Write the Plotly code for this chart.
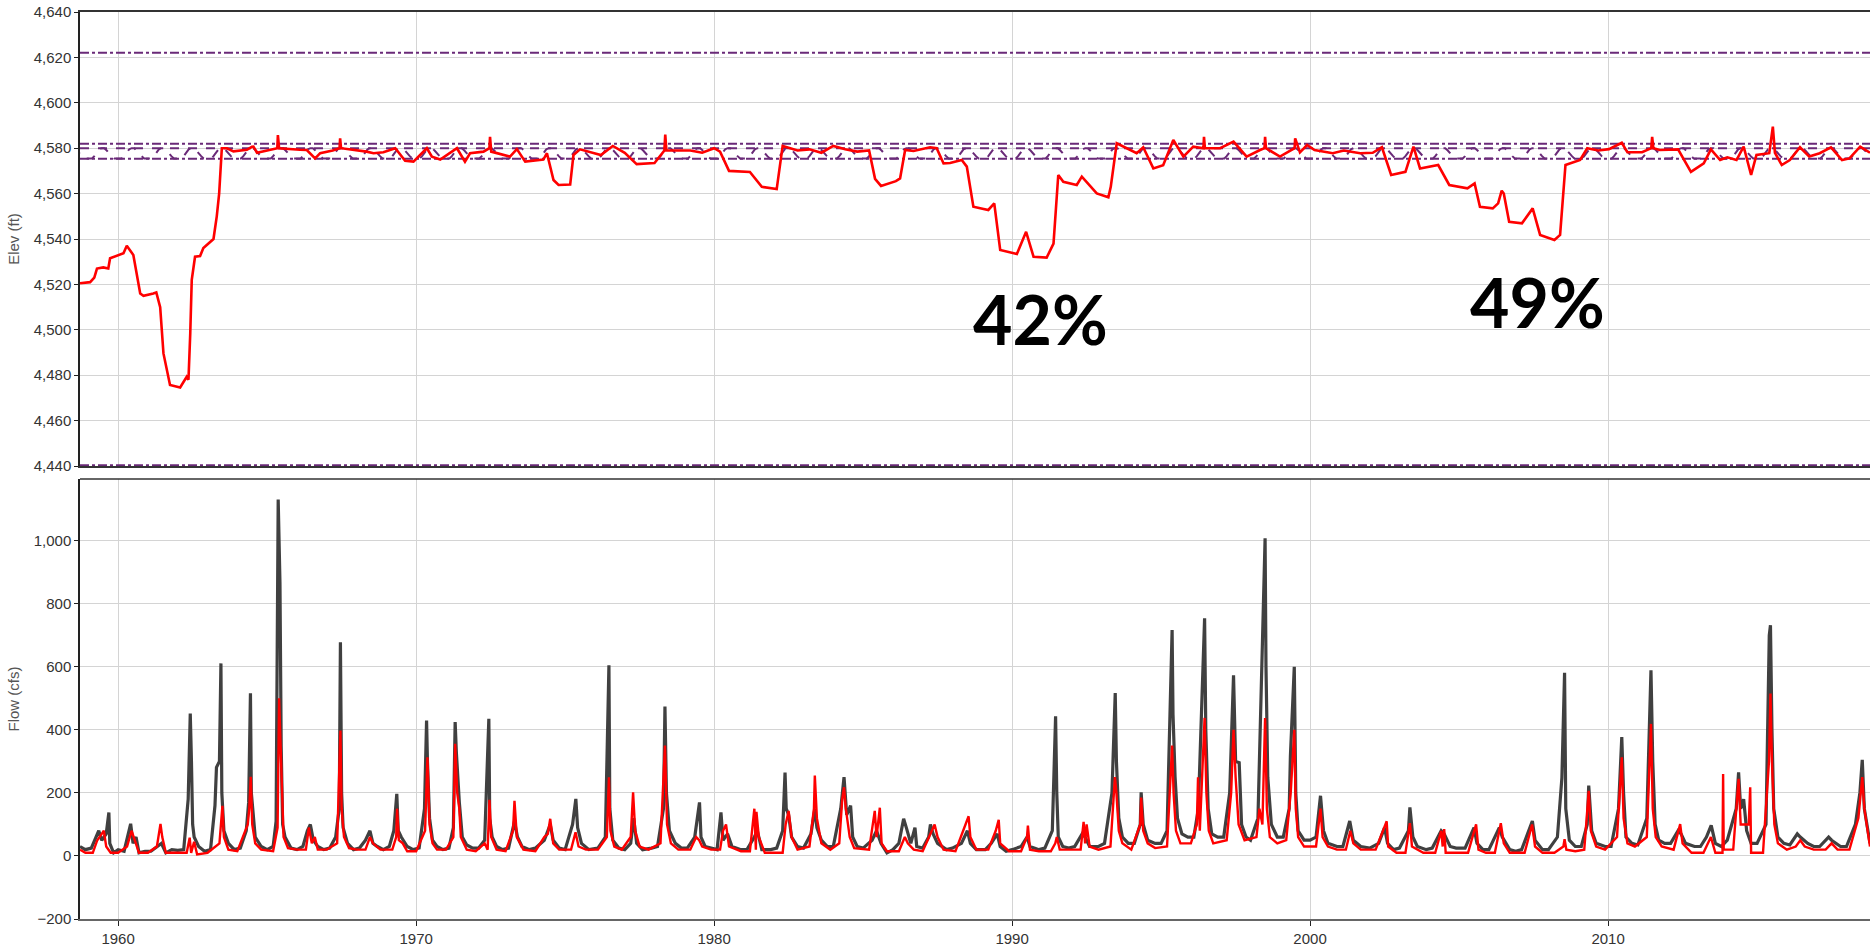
import pandas as pd
import plotly.graph_objects as go

# ---------------------------------------------------------------------------
# Data (decimal year, value)
# ---------------------------------------------------------------------------

# Reservoir pool elevation (ft)
elev_pool = [
    (1958.72, 4520.5), (1959.06, 4521), (1959.2, 4523), (1959.29, 4527), (1959.5, 4527.5),
    (1959.67, 4527), (1959.73, 4531.5), (1960.18, 4533.7), (1960.29, 4537), (1960.51, 4533),
    (1960.74, 4516), (1960.85, 4515), (1961.18, 4516), (1961.28, 4516.5), (1961.41, 4510),
    (1961.52, 4489.6), (1961.74, 4475.7), (1962.08, 4474.6), (1962.3, 4479.3), (1962.36, 4478),
    (1962.42, 4498.5), (1962.47, 4522), (1962.58, 4532.2), (1962.75, 4532.5), (1962.86, 4536),
    (1963.2, 4540), (1963.31, 4550), (1963.39, 4560), (1963.48, 4580), (1963.65, 4580),
    (1963.87, 4578.6), (1964.32, 4579.3), (1964.49, 4580.6), (1964.54, 4580.7), (1964.66, 4578),
    (1965.0, 4579), (1965.34, 4580), (1965.36, 4585.8), (1965.4, 4580), (1966.1, 4579.3),
    (1966.33, 4579.2), (1966.61, 4575.5), (1966.78, 4577.8), (1967.2, 4579), (1967.43, 4580),
    (1967.45, 4584.3), (1967.48, 4580), (1968.34, 4578.5), (1968.57, 4577.8), (1968.9, 4578.2),
    (1969.3, 4580), (1969.63, 4574.5), (1969.91, 4574.1), (1970.36, 4580), (1970.53, 4576.3),
    (1970.81, 4575), (1971.37, 4580), (1971.64, 4574.1), (1971.81, 4577.8), (1972.26, 4578.5),
    (1972.46, 4580), (1972.48, 4585), (1972.52, 4578.5), (1973.15, 4576.3), (1973.38, 4579.6),
    (1973.66, 4574.1), (1974.27, 4575), (1974.39, 4577.8), (1974.61, 4566), (1974.78, 4563.8),
    (1975.17, 4564), (1975.28, 4577), (1975.5, 4579.5), (1976.2, 4577), (1976.6, 4581),
    (1977.0, 4578), (1977.4, 4573), (1978.0, 4573.5), (1978.33, 4579), (1978.36, 4586),
    (1978.4, 4579), (1979.2, 4579), (1979.6, 4578), (1980.0, 4580), (1980.2, 4578.5),
    (1980.5, 4570), (1981.2, 4569.5), (1981.6, 4563), (1982.1, 4562), (1982.3, 4581),
    (1982.8, 4579), (1983.2, 4579.5), (1983.6, 4578), (1984.0, 4581), (1984.4, 4579.5),
    (1984.8, 4578.5), (1985.2, 4579), (1985.4, 4566.5), (1985.6, 4563.4), (1986.1, 4565.5),
    (1986.24, 4566.7), (1986.41, 4579.2), (1986.69, 4578.8), (1987.25, 4580.4), (1987.47, 4580),
    (1987.7, 4573.3), (1987.92, 4573.5), (1988.31, 4574.8), (1988.48, 4571.9), (1988.7, 4554.2),
    (1989.2, 4552.8), (1989.4, 4555.7), (1989.6, 4535.2), (1990.16, 4533.4), (1990.47, 4543.2),
    (1990.72, 4532.2), (1991.16, 4531.8), (1991.39, 4538), (1991.55, 4568.2), (1991.72, 4565.2),
    (1992.17, 4563.8), (1992.34, 4567.5), (1992.5, 4565.2), (1992.84, 4560.1), (1993.23, 4558.4),
    (1993.31, 4563), (1993.51, 4582.2), (1993.96, 4579.2), (1994.18, 4577.8), (1994.4, 4580.4),
    (1994.74, 4571.1), (1995.07, 4572.5), (1995.24, 4577.8), (1995.41, 4583.6), (1995.75, 4576.3),
    (1996.08, 4580.7), (1996.42, 4580), (1996.44, 4585), (1996.47, 4580), (1996.98, 4580),
    (1997.43, 4582.9), (1997.87, 4576.3), (1998.32, 4579.2), (1998.47, 4580), (1998.49, 4585),
    (1998.52, 4580), (1998.99, 4576.3), (1999.48, 4580), (1999.5, 4584.3), (1999.66, 4578.2),
    (1999.9, 4581.4), (2000.15, 4579.2), (2000.76, 4577.8), (2001.13, 4579), (2001.68, 4577.8),
    (2002.1, 4578), (2002.41, 4580.4), (2002.72, 4568.2), (2003.2, 4569.6), (2003.47, 4580.7),
    (2003.69, 4571.1), (2004.3, 4572.6), (2004.67, 4563.8), (2005.28, 4562.3), (2005.52, 4564.5),
    (2005.7, 4554.2), (2006.13, 4553.5), (2006.31, 4555.7), (2006.43, 4561.3), (2006.5, 4560),
    (2006.68, 4547.6), (2007.11, 4546.9), (2007.47, 4553.5), (2007.72, 4541.8), (2008.2, 4539.6),
    (2008.39, 4541.8), (2008.57, 4572.6), (2009.06, 4574.8), (2009.3, 4580), (2009.67, 4579),
    (2010.03, 4579.6), (2010.46, 4582.4), (2010.65, 4578.2), (2011.14, 4578.2), (2011.45, 4580),
    (2011.48, 4585), (2011.52, 4580), (2011.74, 4579.2), (2012.35, 4579.5), (2012.78, 4569.6),
    (2013.21, 4573.3), (2013.45, 4579.5), (2013.76, 4574.8), (2014.0, 4576), (2014.31, 4574.8),
    (2014.55, 4580.7), (2014.8, 4568.2), (2014.98, 4577), (2015.41, 4577.8), (2015.53, 4589.5),
    (2015.6, 4578), (2015.83, 4572.6), (2016.1, 4574.8), (2016.44, 4580.4), (2016.75, 4576.3),
    (2017.1, 4577.8), (2017.48, 4580.4), (2017.85, 4574.8), (2018.1, 4575.5), (2018.46, 4580.7),
    (2018.79, 4578),
]

# Constant pool levels (ft)
top_of_dam_ft = 4622
flood_pool_ft = 4582
full_pool_ft = 4580
min_conservation_ft = 4575.4
inactive_pool_ft = 4440.4

# Seasonal guide curve (ft), Jan..Dec, applied every year
guide_curve_months = [4575.5, 4575.5, 4576.5, 4578.0, 4579.5, 4580.0,
                      4580.0, 4579.0, 4577.5, 4576.5, 4575.5, 4575.5]
guide_years = list(range(1958, 2019))

# Observed flow (cfs)
flow_observed = [
    (1958.72, 30), (1958.9, 20), (1959.1, 25), (1959.25, 60), (1959.35, 80), (1959.45, 50),
    (1959.6, 70), (1959.69, 138), (1959.72, 40), (1959.85, 10), (1960.0, 20), (1960.2, 15),
    (1960.35, 70), (1960.42, 102), (1960.5, 40), (1960.6, 60), (1960.7, 10), (1960.9, 15),
    (1961.1, 15), (1961.3, 30), (1961.45, 40), (1961.6, 10), (1961.8, 20), (1962.0, 18),
    (1962.2, 20), (1962.35, 180), (1962.42, 452), (1962.46, 300), (1962.5, 100), (1962.55, 60),
    (1962.7, 30), (1962.9, 15), (1963.1, 20), (1963.25, 160), (1963.3, 281), (1963.4, 300),
    (1963.45, 611), (1963.48, 200), (1963.55, 80), (1963.7, 40), (1963.9, 20), (1964.1, 25),
    (1964.3, 80), (1964.38, 170), (1964.44, 516), (1964.47, 200), (1964.52, 150), (1964.6, 60),
    (1964.8, 30), (1965.0, 20), (1965.2, 30), (1965.3, 110), (1965.37, 1131), (1965.41, 1000),
    (1965.43, 866), (1965.47, 350), (1965.52, 100), (1965.6, 60), (1965.8, 25), (1966.0, 20),
    (1966.2, 30), (1966.35, 80), (1966.45, 100), (1966.55, 50), (1966.7, 30), (1966.9, 20),
    (1967.1, 25), (1967.3, 60), (1967.42, 150), (1967.46, 678), (1967.5, 200), (1967.55, 90),
    (1967.7, 40), (1967.9, 20), (1968.1, 25), (1968.3, 50), (1968.45, 80), (1968.55, 40),
    (1968.7, 30), (1968.9, 20), (1969.1, 30), (1969.25, 80), (1969.35, 197), (1969.4, 80),
    (1969.5, 60), (1969.7, 30), (1969.9, 20), (1970.1, 25), (1970.28, 150), (1970.35, 430),
    (1970.38, 300), (1970.45, 120), (1970.55, 50), (1970.7, 30), (1970.9, 20), (1971.1, 25),
    (1971.25, 90), (1971.31, 425), (1971.35, 330), (1971.45, 170), (1971.55, 60), (1971.7, 35),
    (1971.9, 25), (1972.1, 25), (1972.3, 50), (1972.44, 435), (1972.47, 120), (1972.55, 60),
    (1972.7, 30), (1972.9, 20), (1973.1, 25), (1973.3, 110), (1973.4, 60), (1973.55, 30),
    (1973.8, 20), (1974.0, 25), (1974.3, 50), (1974.5, 100), (1974.6, 50), (1974.8, 25),
    (1975.0, 20), (1975.25, 100), (1975.36, 181), (1975.42, 90), (1975.55, 40), (1975.8, 20),
    (1976.1, 25), (1976.35, 60), (1976.47, 605), (1976.5, 150), (1976.6, 50), (1976.8, 25),
    (1977.0, 20), (1977.2, 40), (1977.3, 120), (1977.4, 40), (1977.6, 20), (1977.9, 25),
    (1978.1, 30), (1978.3, 150), (1978.35, 474), (1978.4, 200), (1978.5, 80), (1978.7, 40),
    (1978.9, 25), (1979.1, 25), (1979.35, 60), (1979.51, 170), (1979.56, 60), (1979.7, 30),
    (1979.9, 25), (1980.1, 20), (1980.23, 138), (1980.3, 50), (1980.45, 70), (1980.6, 30),
    (1980.9, 20), (1981.1, 20), (1981.35, 60), (1981.45, 80), (1981.6, 20), (1981.9, 20),
    (1982.1, 25), (1982.3, 80), (1982.38, 265), (1982.42, 150), (1982.5, 130), (1982.6, 60),
    (1982.8, 30), (1983.0, 25), (1983.25, 70), (1983.38, 150), (1983.45, 90), (1983.6, 50),
    (1983.8, 30), (1984.0, 30), (1984.25, 150), (1984.36, 250), (1984.45, 130), (1984.58, 160),
    (1984.65, 60), (1984.8, 30), (1985.0, 25), (1985.3, 50), (1985.45, 80), (1985.6, 40),
    (1985.8, 10), (1986.0, 20), (1986.2, 40), (1986.36, 118), (1986.45, 90), (1986.6, 40),
    (1986.74, 90), (1986.8, 30), (1987.0, 25), (1987.2, 60), (1987.26, 100), (1987.35, 70),
    (1987.5, 40), (1987.8, 20), (1988.0, 25), (1988.3, 40), (1988.5, 80), (1988.6, 40),
    (1988.8, 20), (1989.1, 20), (1989.3, 40), (1989.5, 70), (1989.6, 30), (1989.8, 15),
    (1990.0, 20), (1990.3, 30), (1990.5, 60), (1990.6, 30), (1990.9, 20), (1991.1, 25),
    (1991.35, 80), (1991.46, 443), (1991.5, 200), (1991.55, 60), (1991.7, 30), (1991.9, 25),
    (1992.1, 30), (1992.35, 70), (1992.45, 60), (1992.6, 30), (1992.9, 30), (1993.1, 40),
    (1993.35, 200), (1993.46, 517), (1993.5, 300), (1993.58, 120), (1993.7, 60), (1993.9, 40),
    (1994.1, 40), (1994.3, 100), (1994.33, 202), (1994.4, 100), (1994.55, 50), (1994.8, 40),
    (1995.0, 40), (1995.2, 80), (1995.37, 717), (1995.4, 450), (1995.47, 250), (1995.55, 120),
    (1995.7, 70), (1995.9, 60), (1996.1, 60), (1996.25, 150), (1996.46, 754), (1996.5, 400),
    (1996.58, 150), (1996.7, 70), (1996.9, 60), (1997.1, 60), (1997.3, 200), (1997.43, 573),
    (1997.5, 300), (1997.62, 296), (1997.7, 100), (1997.85, 60), (1998.0, 50), (1998.25, 120),
    (1998.49, 1008), (1998.52, 600), (1998.58, 250), (1998.7, 100), (1998.9, 60), (1999.1, 60),
    (1999.3, 150), (1999.34, 318), (1999.47, 600), (1999.52, 200), (1999.6, 80), (1999.8, 50),
    (2000.0, 50), (2000.2, 60), (2000.35, 191), (2000.45, 80), (2000.6, 40), (2000.9, 30),
    (2001.1, 30), (2001.33, 111), (2001.45, 50), (2001.7, 30), (2002.0, 25), (2002.3, 40),
    (2002.5, 90), (2002.6, 40), (2002.8, 20), (2003.0, 25), (2003.3, 80), (2003.35, 154),
    (2003.45, 60), (2003.6, 30), (2003.9, 20), (2004.1, 25), (2004.4, 80), (2004.5, 70),
    (2004.7, 30), (2004.9, 25), (2005.2, 25), (2005.5, 90), (2005.6, 40), (2005.8, 20),
    (2006.0, 20), (2006.35, 90), (2006.45, 60), (2006.7, 20), (2006.9, 15), (2007.1, 20),
    (2007.46, 111), (2007.55, 50), (2007.8, 20), (2008.0, 20), (2008.3, 60), (2008.45, 248),
    (2008.54, 581), (2008.58, 150), (2008.7, 50), (2008.9, 30), (2009.1, 30), (2009.3, 100),
    (2009.35, 223), (2009.45, 80), (2009.6, 40), (2009.9, 30), (2010.1, 30), (2010.35, 150),
    (2010.46, 377), (2010.52, 200), (2010.6, 60), (2010.8, 40), (2011.0, 35), (2011.3, 120),
    (2011.44, 589), (2011.5, 300), (2011.58, 100), (2011.7, 50), (2011.9, 40), (2012.1, 40),
    (2012.35, 80), (2012.45, 70), (2012.6, 40), (2012.9, 30), (2013.1, 30), (2013.3, 60),
    (2013.46, 97), (2013.6, 40), (2013.8, 30), (2014.0, 50), (2014.3, 150), (2014.38, 265),
    (2014.45, 150), (2014.55, 180), (2014.65, 80), (2014.8, 40), (2015.0, 40), (2015.3, 100),
    (2015.41, 700), (2015.45, 732), (2015.5, 400), (2015.56, 150), (2015.7, 60), (2015.9, 40),
    (2016.1, 35), (2016.35, 70), (2016.45, 60), (2016.7, 40), (2016.9, 30), (2017.1, 30),
    (2017.4, 60), (2017.5, 50), (2017.8, 30), (2018.0, 30), (2018.3, 100), (2018.45, 200),
    (2018.53, 305), (2018.6, 150), (2018.79, 40),
]

# Simulated flow (cfs)
flow_simulated = [
    (1958.72, 20), (1958.9, 10), (1959.15, 10), (1959.3, 50), (1959.45, 70), (1959.52, 80),
    (1959.6, 30), (1959.75, 10), (1960.0, 10), (1960.3, 30), (1960.45, 80), (1960.55, 50),
    (1960.7, 10), (1961.0, 10), (1961.3, 30), (1961.42, 102), (1961.48, 60), (1961.6, 10),
    (1962.0, 10), (1962.3, 10), (1962.4, 58), (1962.45, 10), (1962.55, 45), (1962.65, 5),
    (1963.0, 10), (1963.4, 40), (1963.5, 159), (1963.55, 60), (1963.7, 20), (1964.0, 15),
    (1964.35, 100), (1964.4, 150), (1964.45, 251), (1964.5, 100), (1964.6, 40), (1964.8, 20),
    (1965.2, 15), (1965.35, 90), (1965.4, 500), (1965.45, 350), (1965.5, 150), (1965.55, 60),
    (1965.7, 25), (1966.0, 20), (1966.3, 20), (1966.4, 90), (1966.5, 40), (1966.6, 60),
    (1966.7, 20), (1967.0, 20), (1967.35, 40), (1967.46, 398), (1967.5, 150), (1967.58, 60),
    (1967.75, 25), (1968.0, 20), (1968.3, 20), (1968.45, 60), (1968.55, 40), (1968.8, 20),
    (1969.2, 20), (1969.33, 60), (1969.36, 150), (1969.42, 50), (1969.55, 40), (1969.7, 15),
    (1970.0, 15), (1970.3, 80), (1970.38, 313), (1970.45, 100), (1970.55, 40), (1970.7, 20),
    (1971.0, 20), (1971.25, 60), (1971.31, 356), (1971.38, 200), (1971.45, 150), (1971.5, 60),
    (1971.7, 20), (1972.0, 15), (1972.3, 40), (1972.4, 20), (1972.46, 178), (1972.52, 60),
    (1972.7, 20), (1973.0, 15), (1973.25, 80), (1973.3, 175), (1973.38, 60), (1973.6, 20),
    (1974.0, 15), (1974.3, 60), (1974.42, 70), (1974.5, 118), (1974.6, 40), (1974.8, 20),
    (1975.2, 20), (1975.35, 75), (1975.45, 30), (1975.7, 20), (1976.1, 20), (1976.4, 60),
    (1976.47, 250), (1976.52, 80), (1976.65, 30), (1976.9, 20), (1977.2, 60), (1977.28, 202),
    (1977.35, 80), (1977.5, 30), (1977.8, 20), (1978.2, 40), (1978.35, 350), (1978.42, 100),
    (1978.55, 40), (1978.8, 20), (1979.2, 20), (1979.4, 60), (1979.5, 50), (1979.6, 30),
    (1979.9, 20), (1980.2, 20), (1980.3, 80), (1980.4, 100), (1980.5, 30), (1980.9, 15),
    (1981.2, 15), (1981.35, 150), (1981.4, 20), (1981.42, 140), (1981.5, 60), (1981.7, 10),
    (1982.0, 10), (1982.3, 10), (1982.4, 100), (1982.5, 143), (1982.6, 60), (1982.8, 20),
    (1983.2, 30), (1983.35, 150), (1983.38, 255), (1983.45, 120), (1983.6, 40), (1983.9, 20),
    (1984.2, 40), (1984.3, 180), (1984.36, 218), (1984.42, 150), (1984.55, 60), (1984.7, 25),
    (1985.2, 20), (1985.39, 143), (1985.45, 60), (1985.56, 153), (1985.62, 40), (1985.8, 15),
    (1986.2, 15), (1986.4, 60), (1986.5, 40), (1986.7, 20), (1987.0, 15), (1987.3, 80),
    (1987.4, 100), (1987.5, 60), (1987.7, 20), (1988.1, 15), (1988.45, 100), (1988.54, 126),
    (1988.6, 60), (1988.8, 20), (1989.2, 20), (1989.45, 80), (1989.55, 115), (1989.6, 40),
    (1989.9, 15), (1990.3, 15), (1990.5, 60), (1990.53, 96), (1990.6, 20), (1990.9, 15),
    (1991.3, 15), (1991.45, 40), (1991.5, 60), (1991.6, 20), (1991.9, 20), (1992.3, 20),
    (1992.4, 108), (1992.45, 40), (1992.5, 100), (1992.6, 30), (1992.9, 20), (1993.3, 30),
    (1993.45, 250), (1993.5, 200), (1993.58, 80), (1993.7, 40), (1994.0, 20), (1994.3, 100),
    (1994.33, 185), (1994.4, 80), (1994.55, 40), (1994.8, 25), (1995.2, 30), (1995.37, 350),
    (1995.42, 200), (1995.5, 80), (1995.65, 40), (1996.0, 40), (1996.2, 100), (1996.24, 250),
    (1996.3, 80), (1996.46, 438), (1996.52, 200), (1996.6, 80), (1996.75, 40), (1997.2, 50),
    (1997.35, 200), (1997.43, 400), (1997.5, 250), (1997.6, 100), (1997.8, 50), (1998.2, 60),
    (1998.3, 150), (1998.4, 100), (1998.49, 438), (1998.55, 150), (1998.65, 60), (1998.9, 40),
    (1999.2, 50), (1999.35, 200), (1999.47, 400), (1999.52, 150), (1999.6, 60), (1999.8, 30),
    (2000.2, 30), (2000.35, 150), (2000.42, 60), (2000.6, 30), (2000.9, 20), (2001.2, 20),
    (2001.35, 80), (2001.45, 40), (2001.7, 20), (2002.2, 20), (2002.57, 110), (2002.62, 30),
    (2002.9, 10), (2003.2, 10), (2003.35, 104), (2003.42, 30), (2003.8, 10), (2004.2, 10),
    (2004.4, 80), (2004.45, 30), (2004.5, 85), (2004.55, 10), (2004.9, 10), (2005.3, 10),
    (2005.57, 100), (2005.65, 20), (2005.9, 10), (2006.2, 10), (2006.4, 104), (2006.5, 40),
    (2006.7, 10), (2007.2, 10), (2007.45, 100), (2007.55, 30), (2007.8, 10), (2008.2, 10),
    (2008.5, 30), (2008.54, 53), (2008.6, 20), (2008.9, 15), (2009.2, 20), (2009.35, 207),
    (2009.42, 80), (2009.6, 30), (2009.9, 20), (2010.3, 60), (2010.46, 313), (2010.52, 120),
    (2010.65, 40), (2010.9, 30), (2011.3, 60), (2011.44, 419), (2011.5, 150), (2011.6, 60),
    (2011.8, 30), (2012.2, 20), (2012.42, 101), (2012.5, 40), (2012.8, 10), (2013.2, 10),
    (2013.45, 60), (2013.6, 10), (2013.84, 10), (2013.86, 260), (2013.88, 20), (2014.2, 20),
    (2014.38, 245), (2014.45, 100), (2014.72, 100), (2014.77, 218), (2014.8, 10), (2015.2, 10),
    (2015.4, 300), (2015.45, 515), (2015.5, 300), (2015.58, 100), (2015.7, 40), (2016.0, 20),
    (2016.3, 30), (2016.45, 50), (2016.6, 30), (2016.9, 20), (2017.3, 20), (2017.5, 40),
    (2017.7, 20), (2018.1, 20), (2018.4, 120), (2018.53, 250), (2018.6, 150), (2018.79, 30),
]

# Storage-drawdown labels (text, decimal year, elevation)
drawdown_labels = [("42%", 1990.94, 4504.8), ("49%", 2007.62, 4512.7)]

elev_ticks = list(range(4440, 4641, 20))
flow_ticks = list(range(-200, 1001, 200))

# ---------------------------------------------------------------------------


def to_date(dec_year):
    yi = int(dec_year)
    start = pd.Timestamp(year=yi, month=1, day=1)
    end = pd.Timestamp(year=yi + 1, month=1, day=1)
    return start + (end - start) * (dec_year - yi)


def unzip(series):
    return [to_date(t) for t, _ in series], [v for _, v in series]


x_start = to_date(1958.72)
x_end = to_date(2018.79)

PURPLE = "#6A2A78"
RED = "#FF0000"
DARK = "#404040"
GRID = "#D4D4D4"
TICK_FONT = dict(family="Liberation Sans, Arial, sans-serif", size=15, color="#333333")
TITLE_FONT = dict(family="Liberation Sans, Arial, sans-serif", size=15, color="#555555")

fig = go.Figure()

# --- pool elevation panel ---------------------------------------------------
def level_line(level, dash, width=2):
    fig.add_trace(go.Scatter(
        x=[x_start, x_end], y=[level, level], mode="lines",
        line=dict(color=PURPLE, width=width, dash=dash),
        xaxis="x2", yaxis="y", hoverinfo="skip"))


level_line(top_of_dam_ft, "dashdot")
level_line(flood_pool_ft, "dashdot")
level_line(full_pool_ft, "dash")
level_line(min_conservation_ft, "dashdot")
level_line(inactive_pool_ft, "dashdot")

gx, gy = [], []
for yr in guide_years:
    for m, v in enumerate(guide_curve_months):
        gx.append(pd.Timestamp(year=yr, month=m + 1, day=15))
        gy.append(v)
fig.add_trace(go.Scatter(
    x=gx, y=gy, mode="lines",
    line=dict(color=PURPLE, width=2, dash="dash"),
    xaxis="x2", yaxis="y", hoverinfo="skip"))

ex, ey = unzip(elev_pool)
fig.add_trace(go.Scatter(
    x=ex, y=ey, mode="lines", line=dict(color=RED, width=2.6),
    xaxis="x2", yaxis="y", name="Pool elevation"))

# --- flow panel ---------------------------------------------------------------
ox, oy = unzip(flow_observed)
fig.add_trace(go.Scatter(
    x=ox, y=oy, mode="lines", line=dict(color=DARK, width=3.2),
    xaxis="x", yaxis="y2", name="Observed"))

sx, sy = unzip(flow_simulated)
fig.add_trace(go.Scatter(
    x=sx, y=sy, mode="lines", line=dict(color=RED, width=2.4),
    xaxis="x", yaxis="y2", name="Simulated"))

for text, t, elev in drawdown_labels:
    fig.add_annotation(
        x=to_date(t), y=elev, xref="x2", yref="y", text=f"<b>{text}</b>",
        showarrow=False, xanchor="center", yanchor="middle",
        font=dict(family="Lato, Open Sans, sans-serif", size=68, color="#000000"))

xcommon = dict(
    type="date", range=[x_start, x_end], tick0="1960-01-01", dtick="M120",
    tickformat="%Y", showgrid=True, gridcolor=GRID, gridwidth=1, zeroline=False,
    tickfont=TICK_FONT,
)

fig.update_layout(
    width=1870, height=948,
    margin=dict(l=80, r=0, t=12, b=29, autoexpand=False),
    paper_bgcolor="white", plot_bgcolor="white",
    showlegend=False,
    xaxis=dict(**xcommon, anchor="y2", showline=True, linecolor="#666666", linewidth=2,
               mirror=False, ticks="outside", ticklen=5, tickcolor="#222222"),
    xaxis2=dict(**xcommon, anchor="y", matches="x", showticklabels=False,
                showline=True, linecolor="#333333", linewidth=1.5, mirror=True, ticks=""),
    yaxis=dict(domain=[0.4994, 1.0], anchor="x2", range=[4440, 4640],
               tickvals=elev_ticks, tickformat=",d", showgrid=True, gridcolor=GRID,
               zeroline=False, showline=True, linecolor="#222222", linewidth=1.5,
               ticks="outside", ticklen=4, tickcolor="#222222", tickfont=TICK_FONT,
               title=dict(text="Elev (ft)", font=TITLE_FONT, standoff=10)),
    yaxis2=dict(domain=[0.0, 0.4851], anchor="x", range=[-200, 1196],
                tickvals=flow_ticks, tickformat=",d", showgrid=True, gridcolor=GRID,
                zeroline=False, showline=True, linecolor="#222222", linewidth=1.5,
                ticks="outside", ticklen=4, tickcolor="#222222", tickfont=TICK_FONT,
                title=dict(text="Flow (cfs)", font=TITLE_FONT, standoff=10)),
)

# top border of the flow panel
fig.add_shape(type="line", xref="paper", yref="paper", x0=0, x1=1, y0=0.4851, y1=0.4851,
              line=dict(color="#333333", width=1.5))

fig.write_html("out.html")
